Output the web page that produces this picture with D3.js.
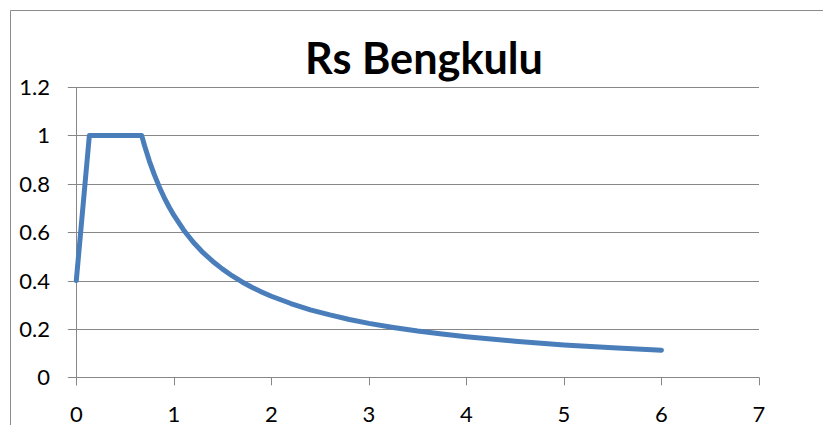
<!DOCTYPE html>
<html>
<head>
<meta charset="utf-8">
<script src="https://cdn.jsdelivr.net/npm/d3@7"></script>
<style>
  html, body { margin: 0; padding: 0; background: #ffffff; }
  svg { display: block; }
  text { font-family: Lato, "Open Sans", sans-serif; fill: #000; }
</style>
</head>
<body>
<script>
// ---- data ----
const title = "Rs Bengkulu";
const periodT = [0, 0.134, 0.67, 0.7, 0.75, 0.8, 0.85, 0.9, 0.95, 1.0, 1.1, 1.2, 1.3, 1.4, 1.5, 1.6, 1.7, 1.8, 1.9, 2.0,
                 2.2, 2.4, 2.6, 2.8, 3.0, 3.25, 3.5, 3.75, 4.0, 4.5, 5.0, 5.5, 6.0];
const saValues = [0.4, 1.0, 1.0, 0.957, 0.893, 0.838, 0.788, 0.744, 0.705, 0.670, 0.609, 0.558, 0.515, 0.479, 0.447, 0.419, 0.394, 0.372, 0.353, 0.335,
                  0.305, 0.279, 0.258, 0.239, 0.223, 0.206, 0.191, 0.179, 0.168, 0.149, 0.134, 0.122, 0.112];
const xTicks = [0, 1, 2, 3, 4, 5, 6, 7];
const yTicks = [0, 0.2, 0.4, 0.6, 0.8, 1.0, 1.2];

// ---- layout ----
const W = 823, H = 425;
const svg = d3.select("body").append("svg").attr("width", W).attr("height", H);

const x = d3.scaleLinear().domain([0, 7]).range([76.3, 759]);
const y = d3.scaleLinear().domain([0, 1.2]).range([377.3, 87]);

const gridColor = "#878787";

// outer frame (left and top visible)
svg.append("path")
  .attr("d", `M10.5,${H} V10.5 H${W}`)
  .attr("fill", "none").attr("stroke", "#8c8c8c").attr("stroke-width", 1);

// horizontal gridlines (extend left as ticks)
svg.append("g").selectAll("line").data(yTicks).join("line")
  .attr("x1", x(0) - 8.5).attr("x2", x(7))
  .attr("y1", d => Math.round(y(d)) + 0.5).attr("y2", d => Math.round(y(d)) + 0.5)
  .attr("stroke", gridColor).attr("stroke-width", 1);

// y axis line
svg.append("line")
  .attr("x1", Math.round(x(0)) + 0.5).attr("x2", Math.round(x(0)) + 0.5)
  .attr("y1", y(1.2)).attr("y2", y(0) + 8)
  .attr("stroke", gridColor).attr("stroke-width", 1);

// x axis ticks
svg.append("g").selectAll("line").data(xTicks).join("line")
  .attr("x1", d => Math.round(x(d)) + 0.5).attr("x2", d => Math.round(x(d)) + 0.5)
  .attr("y1", y(0)).attr("y2", y(0) + 8)
  .attr("stroke", gridColor).attr("stroke-width", 1);

// y labels
svg.append("g").selectAll("text").data(yTicks).join("text")
  .attr("x", 50).attr("y", d => y(d) + 8)
  .attr("text-anchor", "end").attr("font-size", 22)
  .text(d => d3.format("")(+d.toFixed(1)));

// x labels
svg.append("g").selectAll("text").data(xTicks).join("text")
  .attr("x", d => x(d)).attr("y", 421.5)
  .attr("text-anchor", "middle").attr("font-size", 22)
  .text(d => d);

// series line
const pts = periodT.map((t, i) => [t, saValues[i]]);
svg.append("path")
  .datum(pts)
  .attr("fill", "none")
  .attr("stroke", "#4a7ebb")
  .attr("stroke-width", 5)
  .attr("stroke-linejoin", "round")
  .attr("stroke-linecap", "round")
  .attr("d", d3.line().x(d => x(d[0])).y(d => y(d[1])));

// title
const t = svg.append("text")
  .attr("x", 424).attr("y", 74)
  .attr("text-anchor", "middle")
  .attr("font-weight", "bold")
  .attr("font-size", 40)
  .text(title);
const len = t.node().getComputedTextLength();
t.attr("font-size", 40 * 238 / len);
</script>
</body>
</html>
